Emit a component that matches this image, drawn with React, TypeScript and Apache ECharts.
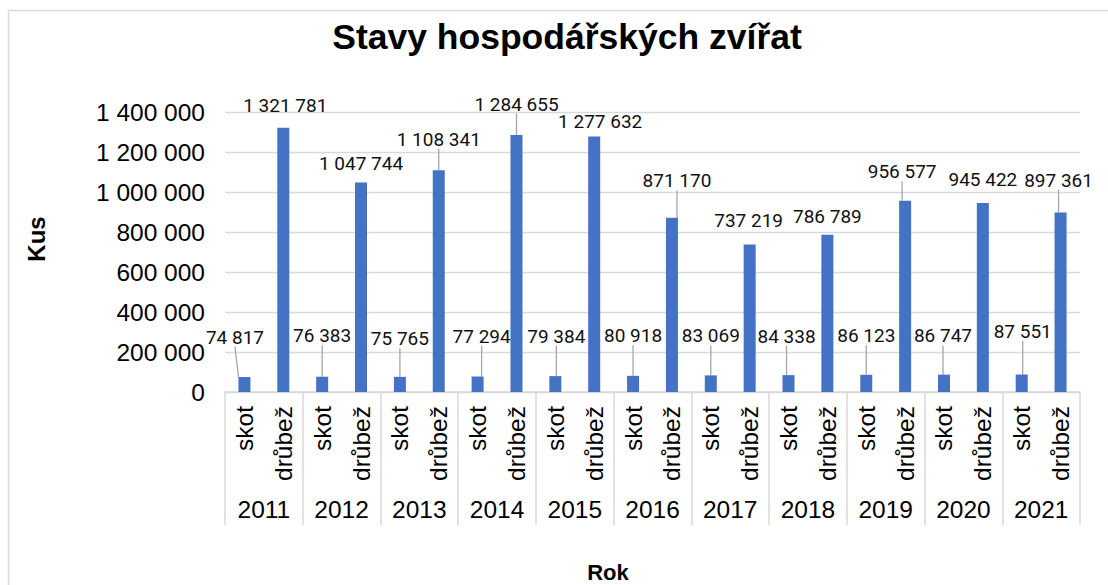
import React, { useEffect, useRef } from "react";
import * as echarts from "echarts";

const years = ["2011", "2012", "2013", "2014", "2015", "2016", "2017", "2018", "2019", "2020", "2021"];
const species = ["skot", "drůbež"];
const skot = [74817, 76383, 75765, 77294, 79384, 80918, 83069, 84338, 86123, 86747, 87551];
const drubez = [1321781, 1047744, 1108341, 1284655, 1277632, 871170, 737219, 786789, 956577, 945422, 897361];
const yMax = 1400000;
const yInterval = 200000;

// label placement (px above bar top, px horizontal shift), as set in the original
const skotLabelLift = [40, 41, 38, 40.5, 40, 40, 39.5, 39, 39, 38.7, 43];
const skotLabelShift = [-9.5, 0, 0, 4, 1, 0, 0, -2, 0, -1, 1];
const drubezLabelLift = [22.6, 18.5, 31.3, 31, 15, 37, 24, 18, 28.7, 23, 32.5];
const drubezLabelShift = [2, 0, 0, 0, 6, 5, -1, 0, -3, 0, -2];

const fmt = (v: number) => String(v).replace(/\B(?=(\d{3})+(?!\d))/g, " ");

export default function App() {
  const ref = useRef<HTMLDivElement>(null);
  useEffect(() => {
    document.body.style.margin = "0";
    const chart = echarts.init(ref.current!, null, { renderer: "svg" });
    const cats: string[] = [];
    const data: any[] = [];
    years.forEach((_, g) => {
      cats.push(species[0], species[1]);
      data.push({ value: skot[g], labelLine: { show: true } });
      data.push({ value: drubez[g], labelLine: { show: drubezLabelLift[g] > 28 } });
    });
    const AX = "Liberation Sans, Arial, sans-serif";
    const gray = "#d9d9d9";
    chart.setOption({
      animation: false,
      title: {
        text: "Stavy hospodářských zvířat",
        left: 562,
        textAlign: "center",
        top: 14,
        textStyle: { fontFamily: AX, fontSize: 35.5, fontWeight: "bold", color: "#000" },
      },
      grid: { left: 225, right: 28, top: 112, bottom: 193, containLabel: false },
      xAxis: [
        {
          type: "category",
          data: cats,
          position: "bottom",
          axisLine: { show: true, lineStyle: { color: gray, width: 1.5 } },
          axisTick: { show: false },
          axisLabel: { interval: 0, rotate: 90, margin: 14, fontFamily: AX, fontSize: 24.5, color: "#000" },
        },
        {
          type: "category",
          data: years,
          position: "bottom",
          axisLine: { show: false },
          axisTick: { show: true, interval: 0, length: 133, lineStyle: { color: gray, width: 1.5 } },
          axisLabel: { interval: 0, margin: 105, fontFamily: AX, fontSize: 24.5, color: "#000" },
        },
      ],
      yAxis: {
        type: "value",
        min: 0,
        max: yMax,
        interval: yInterval,
        axisLine: { show: false },
        axisTick: { show: false },
        splitLine: { lineStyle: { color: gray, width: 1.3 } },
        axisLabel: { margin: 20, fontFamily: AX, fontSize: 24.5, color: "#000", formatter: (v: number) => fmt(v) },
      },
      series: [
        {
          type: "bar",
          xAxisIndex: 0,
          data,
          barWidth: 12,
          itemStyle: { color: "#4472C4" },
          label: {
            show: true,
            position: "top",
            fontFamily: "Roboto, sans-serif",
            fontSize: 19,
            color: "#111",
            padding: [4, 2],
            formatter: (p: any) => fmt(p.value),
          },
          labelLine: { show: true, lineStyle: { color: "#a6a6a6", width: 1.3 } },
          labelLayout: (p: any) => {
            const i = p.dataIndex;
            const g = Math.floor(i / 2);
            const isSkot = i % 2 === 0;
            const lift = isSkot ? skotLabelLift[g] : drubezLabelLift[g];
            const shift = isSkot ? skotLabelShift[g] : drubezLabelShift[g];
            return {
              x: p.rect.x + p.rect.width / 2 + shift,
              y: p.rect.y - lift,
              align: "center",
              verticalAlign: "middle",
            };
          },
        },
      ],
      graphic: [
        { type: "line", shape: { x1: 8.5, y1: 10.5, x2: 1108, y2: 10.5 }, style: { stroke: gray, lineWidth: 1.5 } },
        { type: "line", shape: { x1: 8.5, y1: 10.5, x2: 8.5, y2: 585 }, style: { stroke: gray, lineWidth: 1.5 } },
        {
          type: "text",
          x: 36,
          y: 239,
          rotation: Math.PI / 2,
          style: { text: "Kus", align: "center", verticalAlign: "middle", font: "bold 24px Liberation Sans, Arial, sans-serif", fill: "#000" },
        },
        {
          type: "text",
          x: 608,
          y: 572,
          style: { text: "Rok", align: "center", verticalAlign: "middle", font: "bold 22px Liberation Sans, Arial, sans-serif", fill: "#000" },
        },
      ],
    });
    return () => chart.dispose();
  }, []);
  return <div ref={ref} style={{ width: 1108, height: 585 }} />;
}
